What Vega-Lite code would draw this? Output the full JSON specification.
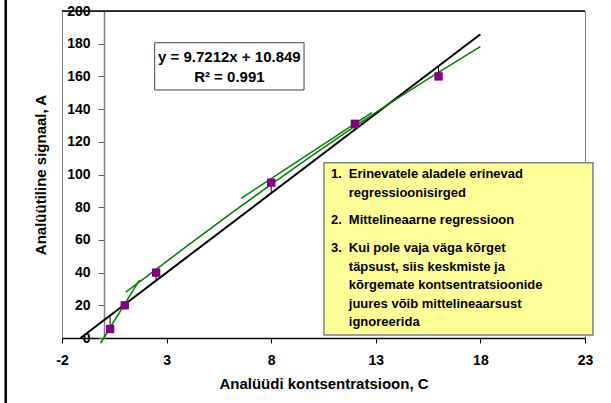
{
  "$schema": "https://vega.github.io/schema/vega-lite/v6.json",
  "width": 523,
  "height": 327,
  "autosize": {"type": "none"},
  "padding": {"left": 62, "top": 11, "right": 26, "bottom": 65},
  "background": "white",
  "config": {
    "view": {"stroke": "#808080", "strokeWidth": 1},
    "font": "Liberation Sans",
    "axisX": {
      "grid": false,
      "domainColor": "black", "domainWidth": 1.5,
      "tickColor": "black", "tickSize": 5, "tickWidth": 1,
      "labelFont": "Liberation Sans", "labelFontWeight": "bold", "labelFontSize": 14,
      "labelColor": "black", "labelPadding": 10, "labelFlush": false, "labelOverlap": false,
      "titleFont": "Liberation Sans", "titleFontWeight": "bold", "titleFontSize": 15,
      "titleColor": "black", "titlePadding": 9
    },
    "axisY": {
      "offset": -42,
      "grid": false,
      "domainColor": "#808080", "domainWidth": 1.5,
      "tickColor": "#606060", "tickSize": 6, "tickWidth": 1,
      "labelFont": "Liberation Sans", "labelFontWeight": "bold", "labelFontSize": 14,
      "labelColor": "black", "labelPadding": 8, "labelOverlap": false, "labelFlush": false,
      "titleFont": "Liberation Sans", "titleFontWeight": "bold", "titleFontSize": 15,
      "titleColor": "black", "titlePadding": 18
    }
  },
  "datasets": {
    "one": [{"k": 1}],
    "points": [
      {"c": 0.3, "a": 5.5, "fit": 13.8},
      {"c": 1, "a": 20, "fit": 20.6},
      {"c": 2.5, "a": 40, "fit": 35.2},
      {"c": 8, "a": 95, "fit": 88.6},
      {"c": 12, "a": 131, "fit": 127.5},
      {"c": 16, "a": 160, "fit": 166.4}
    ],
    "reg": [
      {"c": -1.116, "a": 0},
      {"c": 18, "a": 185.8}
    ],
    "green": [
      {"seg": "low", "c": -0.16, "a": -3.2},
      {"seg": "low", "c": 1.71, "a": 35.5},
      {"seg": "curve", "c": 1.05, "a": 28},
      {"seg": "curve", "c": 2.5, "a": 42},
      {"seg": "curve", "c": 4, "a": 56.5},
      {"seg": "curve", "c": 6, "a": 75.5},
      {"seg": "curve", "c": 8, "a": 94},
      {"seg": "curve", "c": 10, "a": 112},
      {"seg": "curve", "c": 12, "a": 129.5},
      {"seg": "curve", "c": 14, "a": 146.3},
      {"seg": "curve", "c": 16, "a": 162.5},
      {"seg": "curve", "c": 18, "a": 178.2},
      {"seg": "mid", "c": 6.56, "a": 85.4},
      {"seg": "mid", "c": 12.81, "a": 137.8}
    ]
  },
  "layer": [
    {
      "encoding": {
        "x": {"field": "c", "type": "quantitative",
          "title": "Analüüdi kontsentratsioon, C",
          "scale": {"domain": [-2, 23], "nice": false, "zero": false},
          "axis": {"values": [-2, 3, 8, 13, 18, 23], "labelExpr": "datum.value + ''", "labelOverlap": false}
        },
        "y": {"field": "a", "type": "quantitative",
          "title": "Analüütiline signaal, A",
          "scale": {"domain": [0, 200], "nice": false, "zero": false},
          "axis": {"values": [0, 20, 40, 60, 80, 100, 120, 140, 160, 180, 200], "labelOverlap": false}
        }
      },
      "layer": [
        {
          "data": {"name": "reg"},
          "mark": {"type": "line", "color": "black", "strokeWidth": 2}
        },
        {
          "data": {"name": "green"},
          "mark": {"type": "line", "color": "#008000", "strokeWidth": 1.5, "interpolate": "monotone"},
          "encoding": {"detail": {"field": "seg", "type": "nominal"}}
        },
        {
          "data": {"name": "points"},
          "mark": {"type": "rule", "color": "black", "strokeWidth": 1},
          "encoding": {"y2": {"field": "fit"}}
        },
        {
          "data": {"name": "points"},
          "mark": {"type": "square", "color": "#800080", "size": 70, "opacity": 1, "filled": true}
        }
      ]
    },
    {
      "data": {"name": "one"},
      "encoding": {},
      "layer": [
        {
          "mark": {"type": "rule", "color": "black", "strokeWidth": 1.5},
          "encoding": {
            "x": {"datum": -2, "type": "quantitative", "title": "Analüüdi kontsentratsioon, C", "scale": {"domain": [-2, 23], "nice": false, "zero": false}, "axis": {"values": [-2, 3, 8, 13, 18, 23], "labelExpr": "datum.value + ''", "labelOverlap": false}},
            "x2": {"datum": 23},
            "y": {"datum": 200, "type": "quantitative", "title": "Analüütiline signaal, A", "scale": {"domain": [0, 200], "nice": false, "zero": false}, "axis": {"values": [0, 20, 40, 60, 80, 100, 120, 140, 160, 180, 200], "labelOverlap": false}}
          }
        },
        {
          "mark": {"type": "rule", "color": "black", "strokeWidth": 2.5},
          "encoding": {
            "x": {"datum": -4.69, "type": "quantitative", "title": "Analüüdi kontsentratsioon, C", "scale": {"domain": [-2, 23], "nice": false, "zero": false}, "axis": {"values": [-2, 3, 8, 13, 18, 23], "labelExpr": "datum.value + ''", "labelOverlap": false}},
            "y": {"datum": -45, "type": "quantitative", "title": "Analüütiline signaal, A", "scale": {"domain": [0, 200], "nice": false, "zero": false}, "axis": {"values": [0, 20, 40, 60, 80, 100, 120, 140, 160, 180, 200], "labelOverlap": false}},
            "y2": {"datum": 210}
          }
        },
        {
          "mark": {"type": "rect", "fill": "white", "stroke": "#404040", "strokeWidth": 1},
          "encoding": {
            "x": {"datum": 2.43, "type": "quantitative", "title": "Analüüdi kontsentratsioon, C", "scale": {"domain": [-2, 23], "nice": false, "zero": false}, "axis": {"values": [-2, 3, 8, 13, 18, 23], "labelExpr": "datum.value + ''", "labelOverlap": false}},
            "x2": {"datum": 9.57},
            "y": {"datum": 151.7, "type": "quantitative", "title": "Analüütiline signaal, A", "scale": {"domain": [0, 200], "nice": false, "zero": false}, "axis": {"values": [0, 20, 40, 60, 80, 100, 120, 140, 160, 180, 200], "labelOverlap": false}},
            "y2": {"datum": 180.6}
          }
        },
        {
          "mark": {"type": "text", "text": "y = 9.7212x + 10.849", "font": "Liberation Sans", "fontWeight": "bold", "fontSize": 15, "color": "black", "align": "center", "baseline": "middle"},
          "encoding": {
            "x": {"datum": 6.0, "type": "quantitative", "title": "Analüüdi kontsentratsioon, C", "scale": {"domain": [-2, 23], "nice": false, "zero": false}, "axis": {"values": [-2, 3, 8, 13, 18, 23], "labelExpr": "datum.value + ''", "labelOverlap": false}},
            "y": {"datum": 171.9, "type": "quantitative", "title": "Analüütiline signaal, A", "scale": {"domain": [0, 200], "nice": false, "zero": false}, "axis": {"values": [0, 20, 40, 60, 80, 100, 120, 140, 160, 180, 200], "labelOverlap": false}}
          }
        },
        {
          "mark": {"type": "text", "text": "R² = 0.991", "font": "Liberation Sans", "fontWeight": "bold", "fontSize": 15, "color": "black", "align": "center", "baseline": "middle"},
          "encoding": {
            "x": {"datum": 6.0, "type": "quantitative", "title": "Analüüdi kontsentratsioon, C", "scale": {"domain": [-2, 23], "nice": false, "zero": false}, "axis": {"values": [-2, 3, 8, 13, 18, 23], "labelExpr": "datum.value + ''", "labelOverlap": false}},
            "y": {"datum": 159.6, "type": "quantitative", "title": "Analüütiline signaal, A", "scale": {"domain": [0, 200], "nice": false, "zero": false}, "axis": {"values": [0, 20, 40, 60, 80, 100, 120, 140, 160, 180, 200], "labelOverlap": false}}
          }
        },
        {
          "mark": {"type": "rect", "fill": "#FFFF99", "stroke": "#808080", "strokeWidth": 1.5},
          "encoding": {
            "x": {"datum": 10.52, "type": "quantitative", "title": "Analüüdi kontsentratsioon, C", "scale": {"domain": [-2, 23], "nice": false, "zero": false}, "axis": {"values": [-2, 3, 8, 13, 18, 23], "labelExpr": "datum.value + ''", "labelOverlap": false}},
            "x2": {"datum": 23.38},
            "y": {"datum": 1.8, "type": "quantitative", "title": "Analüütiline signaal, A", "scale": {"domain": [0, 200], "nice": false, "zero": false}, "axis": {"values": [0, 20, 40, 60, 80, 100, 120, 140, 160, 180, 200], "labelOverlap": false}},
            "y2": {"datum": 107.2}
          }
        },
        {
          "mark": {"type": "text", "text": "1.", "font": "Liberation Sans", "fontWeight": "bold", "fontSize": 13, "color": "black", "align": "left", "baseline": "top"},
          "encoding": {
            "x": {"datum": 10.86, "type": "quantitative", "title": "Analüüdi kontsentratsioon, C", "scale": {"domain": [-2, 23], "nice": false, "zero": false}, "axis": {"values": [-2, 3, 8, 13, 18, 23], "labelExpr": "datum.value + ''", "labelOverlap": false}},
            "y": {"datum": 104.0, "type": "quantitative", "title": "Analüütiline signaal, A", "scale": {"domain": [0, 200], "nice": false, "zero": false}, "axis": {"values": [0, 20, 40, 60, 80, 100, 120, 140, 160, 180, 200], "labelOverlap": false}}
          }
        },
        {
          "mark": {"type": "text", "text": ["Erinevatele aladele erinevad", "regressioonisirged"], "lineHeight": 19, "font": "Liberation Sans", "fontWeight": "bold", "fontSize": 13, "color": "black", "align": "left", "baseline": "top"},
          "encoding": {
            "x": {"datum": 11.71, "type": "quantitative", "title": "Analüüdi kontsentratsioon, C", "scale": {"domain": [-2, 23], "nice": false, "zero": false}, "axis": {"values": [-2, 3, 8, 13, 18, 23], "labelExpr": "datum.value + ''", "labelOverlap": false}},
            "y": {"datum": 104.0, "type": "quantitative", "title": "Analüütiline signaal, A", "scale": {"domain": [0, 200], "nice": false, "zero": false}, "axis": {"values": [0, 20, 40, 60, 80, 100, 120, 140, 160, 180, 200], "labelOverlap": false}}
          }
        },
        {
          "mark": {"type": "text", "text": "2.", "font": "Liberation Sans", "fontWeight": "bold", "fontSize": 13, "color": "black", "align": "left", "baseline": "top"},
          "encoding": {
            "x": {"datum": 10.86, "type": "quantitative", "title": "Analüüdi kontsentratsioon, C", "scale": {"domain": [-2, 23], "nice": false, "zero": false}, "axis": {"values": [-2, 3, 8, 13, 18, 23], "labelExpr": "datum.value + ''", "labelOverlap": false}},
            "y": {"datum": 75.8, "type": "quantitative", "title": "Analüütiline signaal, A", "scale": {"domain": [0, 200], "nice": false, "zero": false}, "axis": {"values": [0, 20, 40, 60, 80, 100, 120, 140, 160, 180, 200], "labelOverlap": false}}
          }
        },
        {
          "mark": {"type": "text", "text": "Mittelineaarne regressioon", "font": "Liberation Sans", "fontWeight": "bold", "fontSize": 13, "color": "black", "align": "left", "baseline": "top"},
          "encoding": {
            "x": {"datum": 11.71, "type": "quantitative", "title": "Analüüdi kontsentratsioon, C", "scale": {"domain": [-2, 23], "nice": false, "zero": false}, "axis": {"values": [-2, 3, 8, 13, 18, 23], "labelExpr": "datum.value + ''", "labelOverlap": false}},
            "y": {"datum": 75.8, "type": "quantitative", "title": "Analüütiline signaal, A", "scale": {"domain": [0, 200], "nice": false, "zero": false}, "axis": {"values": [0, 20, 40, 60, 80, 100, 120, 140, 160, 180, 200], "labelOverlap": false}}
          }
        },
        {
          "mark": {"type": "text", "text": "3.", "font": "Liberation Sans", "fontWeight": "bold", "fontSize": 13, "color": "black", "align": "left", "baseline": "top"},
          "encoding": {
            "x": {"datum": 10.86, "type": "quantitative", "title": "Analüüdi kontsentratsioon, C", "scale": {"domain": [-2, 23], "nice": false, "zero": false}, "axis": {"values": [-2, 3, 8, 13, 18, 23], "labelExpr": "datum.value + ''", "labelOverlap": false}},
            "y": {"datum": 58.7, "type": "quantitative", "title": "Analüütiline signaal, A", "scale": {"domain": [0, 200], "nice": false, "zero": false}, "axis": {"values": [0, 20, 40, 60, 80, 100, 120, 140, 160, 180, 200], "labelOverlap": false}}
          }
        },
        {
          "mark": {"type": "text", "text": ["Kui pole vaja väga kõrget", "täpsust, siis keskmiste ja", "kõrgemate kontsentratsioonide", "juures võib mittelineaarsust", "ignoreerida"], "lineHeight": 18.5, "font": "Liberation Sans", "fontWeight": "bold", "fontSize": 13, "color": "black", "align": "left", "baseline": "top"},
          "encoding": {
            "x": {"datum": 11.71, "type": "quantitative", "title": "Analüüdi kontsentratsioon, C", "scale": {"domain": [-2, 23], "nice": false, "zero": false}, "axis": {"values": [-2, 3, 8, 13, 18, 23], "labelExpr": "datum.value + ''", "labelOverlap": false}},
            "y": {"datum": 58.7, "type": "quantitative", "title": "Analüütiline signaal, A", "scale": {"domain": [0, 200], "nice": false, "zero": false}, "axis": {"values": [0, 20, 40, 60, 80, 100, 120, 140, 160, 180, 200], "labelOverlap": false}}
          }
        }
      ]
    }
  ]
}
